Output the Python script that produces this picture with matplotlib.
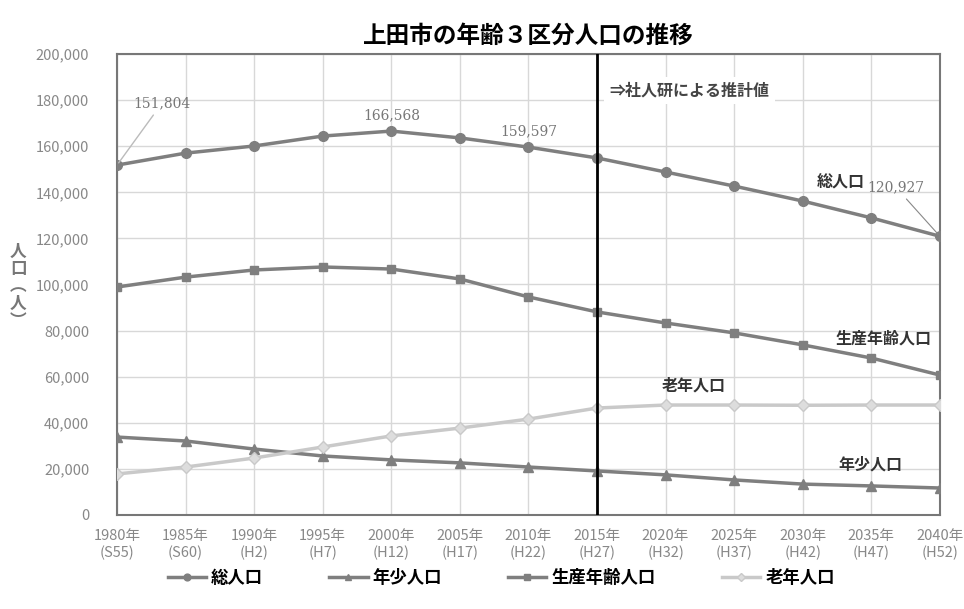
import matplotlib
matplotlib.use('Agg')
import matplotlib.pyplot as plt

plt.rcParams['font.family'] = ['Noto Sans CJK JP', 'DejaVu Sans']

# =========================
# DATA
# =========================
years = [1980, 1985, 1990, 1995, 2000, 2005, 2010, 2015, 2020, 2025, 2030, 2035, 2040]
eras = ["S55", "S60", "H2", "H7", "H12", "H17", "H22", "H27", "H32", "H37", "H42", "H47", "H52"]

total = [151804, 157000, 160100, 164400, 166568, 163600, 159597, 154900, 148800, 142700, 136200, 128900, 120927]
working = [98900, 103200, 106300, 107600, 106700, 102400, 94600, 88100, 83300, 79000, 73800, 68100, 60700]
young = [33800, 32100, 28600, 25600, 23900, 22600, 20800, 19100, 17400, 15200, 13400, 12600, 11700]
elderly = [17800, 20800, 24700, 29500, 34300, 37700, 41600, 46400, 47700, 47700, 47600, 47700, 47700]

yticks = list(range(0, 200001, 20000))

dark = "#7f7f7f"
light = "#c9c9c9"

# =========================
# PLOT
# =========================
fig = plt.figure(figsize=(9.64, 6.09), dpi=100)
ax = fig.add_axes([0.1214, 0.1544, 0.8536, 0.7569])

ax.plot(years, total, color=dark, lw=2.5, marker="o", ms=7, label="総人口", zorder=3)
ax.plot(years, young, color=dark, lw=2.5, marker="^", ms=7, label="年少人口", zorder=3)
ax.plot(years, working, color=dark, lw=2.5, marker="s", ms=6, label="生産年齢人口", zorder=3)
ax.plot(years, elderly, color=light, lw=2.5, marker="D", ms=6, mfc="#dddddd", label="老年人口", zorder=3)

ax.axvline(2015, color="black", lw=2, zorder=4)

ax.set_xlim(years[0], years[-1])
ax.set_ylim(0, 200000)
ax.set_yticks(yticks)
ax.set_yticklabels([f"{v:,}" for v in yticks])
ax.set_xticks(years)
ax.set_xticklabels([f"{y}年\n({e})" for y, e in zip(years, eras)])
ax.tick_params(axis="both", colors="#888888", labelsize=10.5, length=0, pad=10)
ax.tick_params(axis="y", pad=20)

ax.grid(True, color="#d8d8d8", lw=1)
ax.set_axisbelow(True)
for s in ax.spines.values():
    s.set_color("#777777")
    s.set_linewidth(1.5)

# value labels
ax.annotate(f"{total[0]:,}", xy=(years[0], total[0]), xytext=(1981.2, 177000),
            fontsize=10, color="#777777", family="serif",
            arrowprops=dict(arrowstyle="-", color="#bbbbbb", lw=1))
ax.text(years[4], total[4] + 4000, f"{total[4]:,}", fontsize=10, color="#777777",
        family="serif", ha="center", va="bottom")
ax.text(years[6], total[6] + 4000, f"{total[6]:,}", fontsize=10, color="#777777",
        family="serif", ha="center", va="bottom")
ax.annotate(f"{total[-1]:,}", xy=(years[-1], total[-1]), xytext=(2034.7, 140500),
            fontsize=10, color="#777777", family="serif",
            arrowprops=dict(arrowstyle="-", color="#888888", lw=0.8))

# series labels
ax.text(2015.9, 184000, "⇒社人研による推計値", fontsize=11.5, color="#444444",
        fontweight="bold", va="center",
        bbox=dict(facecolor="white", edgecolor="none", pad=4))
ax.text(2031.0, 144500, "総人口", fontsize=11.5, color="#333333", fontweight="bold", va="center")
ax.text(2032.4, 76600, "生産年齢人口", fontsize=11.5, color="#333333", fontweight="bold", va="center")
ax.text(2019.7, 56000, "老年人口", fontsize=11.5, color="#333333", fontweight="bold", va="center")
ax.text(2032.6, 21800, "年少人口", fontsize=11.5, color="#333333", fontweight="bold", va="center")

ax.set_title("上田市の年齢３区分人口の推移", fontsize=17, fontweight="bold", pad=8)

fig.text(0.019, 0.53, "人\n口\n︵\n人\n︶", fontsize=12, color="#777777", fontweight="bold",
         ha="center", va="center", linespacing=0.95)

fig.legend(loc="lower center", ncol=4, frameon=False, bbox_to_anchor=(0.52, 0.01),
           columnspacing=3.8, handlelength=2.2, handletextpad=0.3, markerscale=0.7,
           prop={"weight": "bold", "size": 12.5})

fig.savefig("out.png", dpi=100)
